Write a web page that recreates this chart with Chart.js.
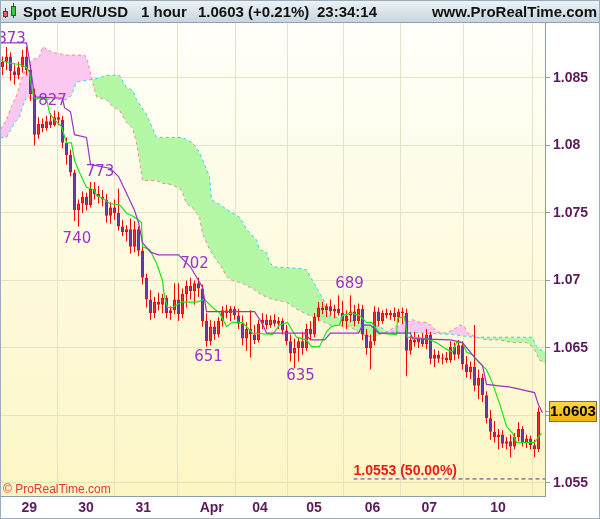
<!DOCTYPE html>
<html>
<head>
<meta charset="utf-8">
<script src="https://cdn.jsdelivr.net/npm/chart.js@4.4.1/dist/chart.umd.min.js"></script>
<style>
  html, body { margin: 0; padding: 0; background: #fff; }
  #wrap { width: 600px; height: 519px; }
</style>
</head>
<body>
<div id="wrap"><canvas id="chart" width="600" height="519"></canvas></div>
<script>
// hourly candles, one slot per bar (index 0 = first visible bar)
const opens = [
  1.0858,1.0862,1.0866,1.0855,1.0852,1.0858,1.0866,1.0856,1.0838,1.0808,
  1.0816,1.0813,1.0818,1.0815,1.0821,1.0819,1.0802,1.0793,1.0780,1.0752,
  1.0757,1.0762,1.0756,1.0768,1.0764,1.0762,1.0760,1.0748,1.0754,1.0750,
  1.0740,1.0736,1.0738,1.0725,1.0738,1.0722,1.0702,1.0686,1.0676,1.0684,
  1.0682,1.0687,1.0676,1.0678,1.0686,1.0675,1.0690,1.0696,1.0692,1.0698,
  1.0694,1.0670,1.0655,1.0666,1.0660,1.0670,1.0678,1.0676,1.0679,1.0674,
  1.0668,1.0657,1.0664,1.0660,1.0656,1.0668,1.0671,1.0667,1.0671,1.0668,
  1.0670,1.0663,1.0655,1.0646,1.0650,1.0655,1.0650,1.0664,1.0660,1.0673,
  1.0680,1.0678,1.0681,1.0677,1.0679,1.0676,1.0670,1.0674,1.0677,1.0670,
  1.0679,1.0660,1.0650,1.0655,1.0677,1.0670,1.0676,1.0674,1.0676,1.0673,
  1.0677,1.0676,1.0648,1.0656,1.0654,1.0657,1.0653,1.0660,1.0642,1.0645,
  1.0642,1.0643,1.0641,1.0651,1.0645,1.0652,1.0638,1.0632,1.0636,1.0622,
  1.0628,1.0615,1.0598,1.0588,1.0584,1.0586,1.0579,1.0581,1.0577,1.0584,
  1.0590,1.0580,1.0583,1.0578,1.0575
];
const highs = [
  1.0866,1.0873,1.0869,1.0860,1.0862,1.0871,1.0873,1.0860,1.0842,1.0821,
  1.0820,1.0822,1.0824,1.0826,1.0825,1.0822,1.0806,1.0797,1.0782,1.0760,
  1.0766,1.0765,1.0773,1.0773,1.0770,1.0767,1.0764,1.0758,1.0760,1.0768,
  1.0745,1.0741,1.0746,1.0744,1.0740,1.0726,1.0705,1.0693,1.0688,1.0691,
  1.0690,1.0689,1.0681,1.0698,1.0698,1.0694,1.0700,1.0702,1.0700,1.0702,
  1.0697,1.0676,1.0671,1.0670,1.0673,1.0681,1.0682,1.0681,1.0681,1.0679,
  1.0674,1.0669,1.0678,1.0667,1.0671,1.0676,1.0675,1.0674,1.0675,1.0673,
  1.0672,1.0667,1.0660,1.0657,1.0658,1.0662,1.0668,1.0670,1.0676,1.0684,
  1.0684,1.0683,1.0686,1.0682,1.0689,1.0685,1.0678,1.0689,1.0682,1.0683,
  1.0682,1.0664,1.0660,1.0681,1.0680,1.0678,1.0679,1.0678,1.0680,1.0679,
  1.0680,1.0679,1.0659,1.0662,1.0660,1.0661,1.0664,1.0662,1.0649,1.0648,
  1.0646,1.0647,1.0655,1.0654,1.0656,1.0655,1.0644,1.0640,1.0667,1.0634,
  1.0631,1.0618,1.0604,1.0596,1.0590,1.0589,1.0584,1.0586,1.0587,1.0595,
  1.0592,1.0586,1.0585,1.0582,1.0606
];
const lows = [
  1.0852,1.0856,1.0848,1.0845,1.0849,1.0854,1.0852,1.0833,1.0800,1.0805,
  1.0810,1.0811,1.0813,1.0814,1.0815,1.0798,1.0786,1.0777,1.0744,1.0740,
  1.0750,1.0752,1.0754,1.0760,1.0757,1.0755,1.0743,1.0742,1.0745,1.0737,
  1.0733,1.0729,1.0720,1.0721,1.0718,1.0697,1.0680,1.0671,1.0672,1.0678,
  1.0676,1.0672,1.0671,1.0675,1.0670,1.0672,1.0680,1.0686,1.0682,1.0688,
  1.0666,1.0651,1.0652,1.0656,1.0658,1.0666,1.0672,1.0670,1.0671,1.0664,
  1.0652,1.0648,1.0643,1.0653,1.0654,1.0664,1.0664,1.0665,1.0666,1.0664,
  1.0660,1.0652,1.0640,1.0635,1.0640,1.0645,1.0648,1.0656,1.0658,1.0670,
  1.0675,1.0673,1.0674,1.0672,1.0674,1.0666,1.0664,1.0669,1.0666,1.0668,
  1.0656,1.0645,1.0634,1.0652,1.0666,1.0668,1.0672,1.0671,1.0670,1.0669,
  1.0668,1.0629,1.0645,1.0651,1.0650,1.0651,1.0649,1.0638,1.0636,1.0639,
  1.0638,1.0639,1.0639,1.0641,1.0642,1.0634,1.0628,1.0627,1.0618,1.0612,
  1.0610,1.0594,1.0582,1.0580,1.0575,1.0576,1.0575,1.0569,1.0575,1.0581,
  1.0577,1.0576,1.0575,1.0569,1.0573
];
const closes = [
  1.0862,1.0866,1.0855,1.0852,1.0858,1.0866,1.0856,1.0838,1.0808,1.0816,
  1.0813,1.0818,1.0815,1.0821,1.0819,1.0802,1.0793,1.0780,1.0752,1.0757,
  1.0762,1.0756,1.0768,1.0764,1.0762,1.0760,1.0748,1.0754,1.0750,1.0740,
  1.0736,1.0738,1.0725,1.0738,1.0722,1.0702,1.0686,1.0676,1.0684,1.0682,
  1.0687,1.0676,1.0678,1.0686,1.0675,1.0690,1.0696,1.0692,1.0698,1.0694,
  1.0670,1.0655,1.0666,1.0660,1.0670,1.0678,1.0676,1.0679,1.0674,1.0668,
  1.0657,1.0664,1.0660,1.0656,1.0668,1.0671,1.0667,1.0671,1.0668,1.0670,
  1.0663,1.0655,1.0646,1.0650,1.0655,1.0650,1.0664,1.0660,1.0673,1.0680,
  1.0678,1.0681,1.0677,1.0679,1.0676,1.0670,1.0674,1.0677,1.0670,1.0679,
  1.0660,1.0650,1.0655,1.0677,1.0670,1.0676,1.0674,1.0676,1.0673,1.0677,
  1.0676,1.0648,1.0656,1.0654,1.0657,1.0653,1.0660,1.0642,1.0645,1.0642,
  1.0643,1.0641,1.0651,1.0645,1.0652,1.0638,1.0632,1.0636,1.0622,1.0628,
  1.0615,1.0598,1.0588,1.0584,1.0586,1.0579,1.0581,1.0577,1.0584,1.0590,
  1.0580,1.0583,1.0578,1.0575,1.0603
];

// indicator lines as [bar index, price]
const tenkan = [
  [-0.4,1.0863],[1.75,1.0861],[4.25,1.0860],[6,1.0858],[6.75,1.0854],[7.5,1.0839],[8,1.0835],
  [11,1.0835],[11.75,1.0824],[13,1.0819],[14.75,1.0814],[16,1.0802],[17.25,1.0802],[18,1.0789],
  [19.25,1.0780],[21,1.0769],[23,1.0767],[23.5,1.0763],[25,1.0761],[26.75,1.0757],[29.25,1.0756],
  [31,1.0750],[33,1.0747],[34.75,1.0743],[35,1.0725],[36.75,1.0723],[38.5,1.0713],[40,1.0700],
  [40.5,1.0688],[41.25,1.0680],[42.5,1.0680],[44.75,1.0684],[48.5,1.0684],[50.5,1.0686],
  [52.5,1.0680],[54.25,1.0676],[56,1.0666],[57.5,1.0669],[60,1.0669],[62.5,1.0661],[67.5,1.0660],
  [69.25,1.0667],[71.25,1.0669],[73.5,1.0658],[76,1.0656],[77.25,1.0651],[79.25,1.0651],
  [81,1.0662],[82.25,1.0666],[84.25,1.0667],[85,1.0674],[87.25,1.0676],[89.25,1.0674],[91,1.0669],
  [92.25,1.0669],[94.25,1.0661],[98.5,1.0660],[98.75,1.0672],[100.5,1.0673],[101.25,1.0658],
  [106,1.0657],[108.5,1.0654],[111,1.0649],[112.5,1.0647],[113.5,1.0654],[115,1.0654],[116,1.0647],
  [117.5,1.0645],[119.25,1.0639],[121,1.0634],[122.5,1.0624],[124.25,1.0609],[126,1.0592],
  [127.5,1.0587],[128.5,1.0580],[133,1.0580],[134.75,1.0587]
];
const kijun = [
  [-0.4,1.0876],[6,1.0876],[7,1.0858],[8,1.0836],[15,1.0835],[15.5,1.0828],[17,1.0825],[18,1.0808],
  [21,1.0806],[22,1.0786],[27,1.0783],[29,1.0777],[30,1.0771],[33,1.0752],[34,1.0743],[35,1.0728],
  [37,1.0721],[39,1.0719],[44,1.0719],[46,1.0713],[47,1.0710],[49,1.0700],[50,1.0695],[51,1.0677],
  [63,1.0677],[65,1.0668],[66,1.0661],[75.5,1.0661],[77,1.0656],[80.5,1.0656],[82,1.0661],
  [89,1.0661],[90,1.0667],[92,1.0667],[94,1.0661],[102,1.0661],[102.5,1.0657],[112,1.0656],
  [115,1.0654],[118,1.0643],[120,1.0637],[121,1.0623],[127,1.0621],[133,1.0617],[134,1.0608],
  [135,1.0602]
];
const spanA = [
  [-0.5,1.0812],[1,1.0819],[2.25,1.0829],[3.5,1.0837],[4.75,1.0849],[6,1.0858],[7.25,1.0863],
  [9.25,1.0866],[10,1.0873],[12.5,1.0869],[16,1.0867],[20.5,1.0867],[21.25,1.0863],[22.25,1.0850],
  [23.5,1.0836],[26,1.0834],[27.5,1.0829],[29.25,1.0826],[31,1.0817],[32.5,1.0813],[33.5,1.0802],
  [34.25,1.0789],[35,1.0774],[38.5,1.0774],[40,1.0772],[42.5,1.0771],[44.75,1.0767],[46,1.0757],
  [47.5,1.0754],[49.25,1.0747],[50,1.0735],[51.75,1.0723],[53.5,1.0715],[54.75,1.0710],
  [56,1.0703],[57.5,1.0700],[60,1.0698],[62.5,1.0694],[65,1.0689],[67.5,1.0686],[71,1.0684],
  [73.5,1.0679],[76,1.0675],[78.5,1.0672],[81.75,1.0667],[86.75,1.0666],[89.75,1.0660],
  [92.5,1.0658],[96,1.0662],[98.5,1.0666],[101,1.0669],[102.5,1.0671],[104.25,1.0669],
  [106,1.0669],[107.5,1.0666],[108.5,1.0662],[111,1.0661],[113.5,1.0665],[114.25,1.0667],
  [115.5,1.0666],[116.25,1.0661],[118.5,1.0658],[121,1.0656],[124.25,1.0656],[127.5,1.0654],
  [131,1.0654],[132.5,1.0651],[133.5,1.0646],[134.25,1.0641],[135.7,1.0639]
];
const spanB = [
  [-0.5,1.0806],[1,1.0806],[1.75,1.0810],[3,1.0817],[4.25,1.0821],[5,1.0829],[6,1.0836],
  [7.5,1.0834],[16,1.0834],[17.25,1.0837],[18.5,1.0847],[22.5,1.0849],[24.25,1.0850],[26,1.0852],
  [29.25,1.0852],[31,1.0843],[32.5,1.0841],[33.5,1.0834],[36,1.0823],[38.5,1.0806],[45,1.0806],
  [47.5,1.0802],[49.25,1.0795],[51.75,1.0777],[52.25,1.0760],[57.5,1.0750],[59.25,1.0747],
  [61.25,1.0737],[63.5,1.0730],[64.25,1.0723],[66,1.0721],[66.75,1.0713],[68,1.0710],
  [74.25,1.0709],[76,1.0708],[77.5,1.0700],[78.5,1.0695],[79.25,1.0691],[80.5,1.0684],
  [81.25,1.0674],[85,1.0672],[86.75,1.0671],[88.75,1.0669],[91,1.0667],[94.25,1.0666],
  [96,1.0662],[106,1.0661],[112.5,1.0660],[117.5,1.0658],[132.5,1.0658],[133.5,1.0651],
  [134.25,1.0649],[135.7,1.0647]
];

const dayTicks = [6.7, 20.9, 35.2, 52.3, 64.4, 77.9, 92.5, 106.7, 123.9];
const dayLabels = ['29', '30', '31', 'Apr', '04', '05', '06', '07', '10'];
const priceTicks = [1.055, 1.06, 1.065, 1.07, 1.075, 1.08, 1.085];

// swing labels: text, bar index, price
const swingText = ['873', '827', '773', '740', '702', '651', '635', '689'];
const swingX = [2.25, 12.5, 24.4, 18.6, 48, 51.5, 74.5, 86.75];
const swingY = [1.0879, 1.0833, 1.0780, 1.0731, 1.0712, 1.0643, 1.0629, 1.0697];

const fiftyLevel = 1.0553;
const fiftyFrom = 87.75;
const xMin = -0.375;
const xMax = 135.625;

const lastClose = closes[closes.length - 1];
const toPoints = pairs => pairs.map(([x, y]) => ({ x, y }));

const wicks = highs.map((h, i) => ({ x: i, y: [lows[i], h] }));
const bodies = opens.map((o, i) => ({ x: i, y: [o, closes[i]] }));
const bodyFill = opens.map((o, i) => closes[i] < o ? '#6a3cb0' : '#ff2a2a');

const drawHeader = (ctx) => {
  const g = ctx.createLinearGradient(0, 0, 0, 22);
  g.addColorStop(0, '#eef3f6');
  g.addColorStop(1, '#c8d6df');
  ctx.fillStyle = g;
  ctx.fillRect(0, 0, 600, 22);
  ctx.fillStyle = '#8ea2b2';
  ctx.fillRect(0, 22, 600, 1);

  // little candle icon
  ctx.fillStyle = '#444';
  ctx.fillRect(5, 8, 1, 10);
  ctx.fillRect(13, 3, 1, 15);
  ctx.fillStyle = '#e86060';
  ctx.fillRect(3, 11, 5, 6);
  ctx.strokeStyle = '#703030';
  ctx.strokeRect(3.5, 11.5, 4, 5);
  ctx.fillStyle = '#3cc83c';
  ctx.fillRect(11, 6, 5, 10);
  ctx.strokeStyle = '#1d6a1d';
  ctx.strokeRect(11.5, 6.5, 4, 9);

  ctx.font = 'bold 15px "Liberation Sans", Arial, sans-serif';
  ctx.fillStyle = '#111';
  ctx.textBaseline = 'alphabetic';
  ctx.textAlign = 'left';
  ctx.fillText('Spot EUR/USD', 23, 17);
  ctx.fillText('1 hour', 141, 17);
  ctx.fillText(lastClose.toFixed(4) + ' (+0.21%)', 198, 17);
  ctx.fillText('23:34:14', 317, 17);
  ctx.textAlign = 'right';
  ctx.fillText('www.ProRealTime.com', 597, 17);
};

const backdrop = {
  id: 'backdrop',
  beforeDraw(chart) {
    const { ctx, chartArea: a } = chart;
    ctx.save();
    ctx.fillStyle = '#fff';
    ctx.fillRect(0, 0, chart.width, chart.height);
    const g = ctx.createLinearGradient(0, a.top, 0, a.bottom);
    g.addColorStop(0, '#fffffa');
    g.addColorStop(1, '#fcf6c4');
    ctx.fillStyle = g;
    ctx.fillRect(a.left, a.top, a.right - a.left, a.bottom - a.top);
    drawHeader(ctx);
    ctx.restore();
  }
};

const notes = {
  id: 'notes',
  afterDatasetsDraw(chart) {
    const { ctx, scales: { x, y }, chartArea: a } = chart;
    ctx.save();
    ctx.font = '15px "DejaVu Sans", sans-serif';
    ctx.fillStyle = '#9a34c8';
    ctx.textAlign = 'center';
    ctx.textBaseline = 'middle';
    swingText.forEach((t, i) => {
      ctx.fillText(t, x.getPixelForValue(swingX[i]), y.getPixelForValue(swingY[i]));
    });

    ctx.font = 'bold 14px "Liberation Sans", Arial, sans-serif';
    ctx.fillStyle = '#f01818';
    ctx.textAlign = 'left';
    ctx.textBaseline = 'alphabetic';
    ctx.fillText(fiftyLevel.toFixed(4) + ' (50.00%)', x.getPixelForValue(fiftyFrom), y.getPixelForValue(fiftyLevel) - 4);

    ctx.font = '12px "Liberation Sans", Arial, sans-serif';
    ctx.fillStyle = '#e03a3a';
    ctx.fillText('\u00a9 ProRealTime.com', a.left + 2, a.bottom - 3);
    ctx.restore();
  },
  afterDraw(chart) {
    const { ctx, scales: { y }, chartArea: a } = chart;
    const py = Math.round(y.getPixelForValue(lastClose));
    ctx.save();
    ctx.fillStyle = '#8c9cac';
    ctx.fillRect(a.right, py, 5, 1);
    const g = ctx.createLinearGradient(0, py - 10, 0, py + 11);
    g.addColorStop(0, '#ffd84a');
    g.addColorStop(1, '#f0b400');
    ctx.fillStyle = g;
    ctx.fillRect(549, py - 10, 48, 21);
    ctx.strokeStyle = '#7d7040';
    ctx.strokeRect(549.5, py - 9.5, 47, 20);
    ctx.font = 'bold 15px "Liberation Sans", Arial, sans-serif';
    ctx.fillStyle = '#000';
    ctx.textAlign = 'center';
    ctx.textBaseline = 'middle';
    ctx.fillText(lastClose.toFixed(4), 573, py + 1);

    ctx.strokeStyle = '#9aacba';
    ctx.strokeRect(0.5, 0.5, chart.width - 1, chart.height - 1);
    ctx.restore();
  }
};

const axisFont = { family: '"Liberation Sans", Arial, sans-serif', size: 14, weight: 'bold' };
const gridColor = '#e6e2c6';

const ctx = document.getElementById('chart').getContext('2d');
new Chart(ctx, {
  type: 'bar',
  data: {
    datasets: [
      {
        type: 'line',
        label: 'Span A',
        data: toPoints(spanA),
        borderColor: '#f08a8a',
        borderWidth: 1,
        borderDash: [3, 3],
        pointRadius: 0,
        fill: { target: '+1', above: '#fdc8ef', below: '#b4f8a6' },
        order: 10
      },
      {
        type: 'line',
        label: 'Span B',
        data: toPoints(spanB),
        borderColor: '#2cd8ee',
        borderWidth: 1,
        borderDash: [3, 3],
        pointRadius: 0,
        fill: false,
        order: 9
      },
      {
        label: 'Wicks',
        data: wicks,
        backgroundColor: '#ff0000',
        borderWidth: 0,
        barThickness: 1,
        inflateAmount: 0,
        grouped: false,
        order: 6
      },
      {
        label: 'Bodies',
        data: bodies,
        backgroundColor: bodyFill,
        borderColor: '#ff0000',
        borderWidth: 1,
        borderSkipped: false,
        barThickness: 3,
        inflateAmount: 0,
        minBarLength: 1,
        grouped: false,
        order: 5
      },
      {
        type: 'line',
        label: '50%',
        data: [{ x: fiftyFrom, y: fiftyLevel }, { x: xMax, y: fiftyLevel }],
        borderColor: '#6a2a9a',
        borderWidth: 1,
        borderDash: [4, 3],
        pointRadius: 0,
        order: 3
      },
      {
        type: 'line',
        label: 'Tenkan',
        data: toPoints(tenkan),
        borderColor: '#18e818',
        borderWidth: 1.2,
        pointRadius: 0,
        order: 2
      },
      {
        type: 'line',
        label: 'Kijun',
        data: toPoints(kijun),
        borderColor: '#9a34c8',
        borderWidth: 1.2,
        pointRadius: 0,
        order: 1
      }
    ]
  },
  options: {
    responsive: false,
    animation: false,
    devicePixelRatio: 1,
    events: [],
    layout: { padding: { top: 23, left: 1, right: 0, bottom: 0 } },
    plugins: {
      legend: { display: false },
      tooltip: { enabled: false }
    },
    scales: {
      x: {
        type: 'linear',
        min: xMin,
        max: xMax,
        offset: false,
        afterBuildTicks: scale => { scale.ticks = dayTicks.map(v => ({ value: v })); },
        afterFit: scale => { scale.height = 23; },
        ticks: {
          autoSkip: false,
          maxRotation: 0,
          padding: 4,
          color: '#5a1a5a',
          font: axisFont,
          callback: (value, index) => dayLabels[index]
        },
        grid: { color: gridColor, drawTicks: false },
        border: { color: '#8c9cac' }
      },
      y: {
        type: 'linear',
        position: 'right',
        min: 1.054037,
        max: 1.089074,
        afterBuildTicks: scale => { scale.ticks = priceTicks.map(v => ({ value: v })); },
        afterFit: scale => { scale.width = 55; },
        ticks: {
          padding: 3,
          color: '#5a1a5a',
          font: axisFont,
          callback: value => String(Number(value.toFixed(3)))
        },
        grid: { color: gridColor, tickColor: '#8c9cac', tickLength: 5 },
        border: { color: '#8c9cac' }
      }
    }
  },
  plugins: [backdrop, notes]
});
</script>
</body>
</html>
